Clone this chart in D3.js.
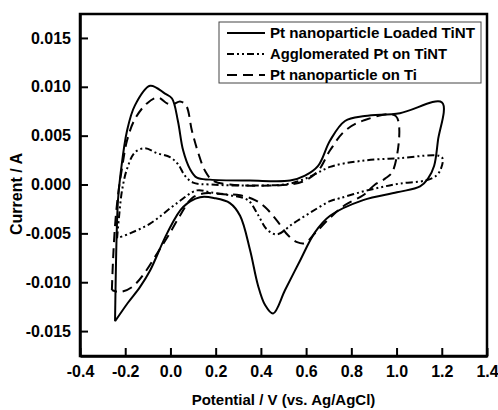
<!DOCTYPE html>
<html>
<head>
<meta charset="utf-8">
<script src="https://cdn.jsdelivr.net/npm/d3@7"></script>
<style>
  body { margin: 0; background: #fff; }
  svg text { font-family: "Liberation Sans", Arial, sans-serif; font-weight: bold; fill: #000; }
</style>
</head>
<body>
<div id="cv_chart"></div>
<script>
// series values [potential V, current A], one loop each
var loadedTiNT = [
  [-0.245, -0.0140], [-0.232, -0.0016], [-0.219, 0.0014], [-0.192, 0.0055], [-0.157, 0.0081],
  [-0.090, 0.0101], [-0.024, 0.0093], [0.007, 0.0088], [0.033, 0.0065], [0.056, 0.0035],
  [0.086, 0.0016], [0.117, 0.0007], [0.175, 0.0005], [0.352, 0.0004], [0.529, 0.0004],
  [0.595, 0.0009], [0.653, 0.0019], [0.706, 0.0045], [0.772, 0.0065], [0.860, 0.0070],
  [1.015, 0.0073], [1.201, 0.0084],
  [1.183, 0.0045], [1.166, 0.0019], [1.139, 0.0006], [1.104, -0.0002], [1.002, -0.0008],
  [0.852, -0.0016], [0.706, -0.0032], [0.639, -0.0049], [0.573, -0.0078], [0.507, -0.0108],
  [0.454, -0.0132], [0.418, -0.0123], [0.387, -0.0103], [0.352, -0.0067], [0.308, -0.0032],
  [0.263, -0.0019], [0.197, -0.0014], [0.131, -0.0013], [0.056, -0.0023], [-0.015, -0.0050],
  [-0.090, -0.0088], [-0.135, -0.0105], [-0.188, -0.0121], [-0.245, -0.0140]
];

var agglomeratedPt = [
  [-0.236, -0.0055], [-0.227, -0.0032], [-0.214, -0.0006], [-0.192, 0.0016], [-0.157, 0.0033],
  [-0.113, 0.0037], [-0.059, 0.0032], [-0.002, 0.0028], [0.033, 0.0021], [0.064, 0.0009],
  [0.100, 0.0002], [0.175, 0.0000], [0.396, -0.0001], [0.529, 0.0001], [0.617, 0.0008],
  [0.706, 0.0018], [0.838, 0.0024], [1.015, 0.0027], [1.200, 0.0028],
  [1.196, 0.0016], [1.175, 0.0009], [1.126, 0.0004], [1.015, 0.0001], [0.927, -0.0003],
  [0.838, -0.0008], [0.750, -0.0014], [0.706, -0.0017], [0.617, -0.0029], [0.542, -0.0040],
  [0.471, -0.0051], [0.427, -0.0046], [0.387, -0.0031], [0.343, -0.0016], [0.263, -0.0011],
  [0.175, -0.0008], [0.117, -0.0006], [0.029, -0.0019], [-0.090, -0.0040], [-0.179, -0.0050],
  [-0.236, -0.0055]
];

var ptOnTi = [
  [-0.259, -0.0108], [-0.254, -0.0078], [-0.245, -0.0042], [-0.232, -0.0011], [-0.214, 0.0017],
  [-0.192, 0.0045], [-0.157, 0.0067], [-0.104, 0.0083], [-0.055, 0.0089], [-0.015, 0.0083],
  [0.011, 0.0082], [0.042, 0.0085], [0.069, 0.0081], [0.095, 0.0055], [0.122, 0.0033],
  [0.153, 0.0014], [0.188, 0.0004], [0.263, 0.0000], [0.529, 0.0000], [0.595, 0.0004],
  [0.653, 0.0014], [0.706, 0.0035], [0.772, 0.0055], [0.860, 0.0066], [0.997, 0.0070],
  [0.984, 0.0014], [0.949, 0.0006], [0.905, 0.0000], [0.852, -0.0011], [0.772, -0.0021],
  [0.706, -0.0034], [0.639, -0.0050], [0.595, -0.0060], [0.560, -0.0059], [0.520, -0.0052],
  [0.471, -0.0037], [0.418, -0.0023], [0.374, -0.0016], [0.308, -0.0011], [0.232, -0.0010],
  [0.153, -0.0009], [0.095, -0.0014], [0.042, -0.0032], [-0.011, -0.0053], [-0.055, -0.0069],
  [-0.113, -0.0090], [-0.170, -0.0105], [-0.223, -0.0110], [-0.259, -0.0108]
];

var seriesNames = ["Pt nanoparticle Loaded TiNT", "Agglomerated Pt on TiNT", "Pt nanoparticle on Ti"];

// tick labels
var xTicks = [-0.4, -0.2, 0.0, 0.2, 0.4, 0.6, 0.8, 1.0, 1.2, 1.4];
var xTickLabels = ["-0.4", "-0.2", "0.0", "0.2", "0.4", "0.6", "0.8", "1.0", "1.2", "1.4"];
var yTicks = [-0.015, -0.010, -0.005, 0.000, 0.005, 0.010, 0.015];
var yTickLabels = ["-0.015", "-0.010", "-0.005", "0.000", "0.005", "0.010", "0.015"];

var cv_width = 498, cv_height = 410;
var cv_margin = { top: 14, right: 11, bottom: 54, left: 80 };
var cv_innerWidth = cv_width - cv_margin.left - cv_margin.right;
var cv_innerHeight = cv_height - cv_margin.top - cv_margin.bottom;

var svg = d3.select("#cv_chart")
  .append("svg")
  .attr("width", cv_width)
  .attr("height", cv_height)
  .append("g")
  .attr("transform", "translate(" + cv_margin.left + "," + cv_margin.top + ")");

var xScale = d3.scaleLinear().domain([-0.4, 1.4]).range([0, cv_innerWidth]);
var yScale = d3.scaleLinear().domain([-0.01755, 0.01745]).range([cv_innerHeight, 0]);

// frame, top and right
svg.append("rect")
  .attr("x", 0).attr("y", 0)
  .attr("width", cv_innerWidth).attr("height", cv_innerHeight)
  .attr("fill", "none")
  .attr("stroke", "#000")
  .attr("stroke-width", 2.5);

// axes, ticks pointing in
var xAxis = svg.append("g")
  .attr("transform", "translate(0," + cv_innerHeight + ")")
  .call(d3.axisBottom(xScale).tickValues(xTicks)
    .tickFormat((d, i) => xTickLabels[i])
    .tickSizeInner(-8).tickSizeOuter(0).tickPadding(10));

var yAxis = svg.append("g")
  .call(d3.axisLeft(yScale).tickValues(yTicks)
    .tickFormat((d, i) => yTickLabels[i])
    .tickSizeInner(-8).tickSizeOuter(0).tickPadding(9));

[xAxis, yAxis].forEach(function (ax) {
  ax.select(".domain").attr("stroke-width", 2.5);
  ax.selectAll(".tick line").attr("stroke-width", 2);
  ax.selectAll("text").style("font-size", "16px").style("font-family", "'Liberation Sans', Arial, sans-serif").style("font-weight", "bold");
});

// axis titles
svg.append("text")
  .attr("transform", "rotate(-90)")
  .attr("x", -(194 - cv_margin.top))
  .attr("y", 16 - cv_margin.left)
  .attr("dy", "0.35em")
  .style("text-anchor", "middle")
  .style("font-size", "16px")
  .text("Current / A");

svg.append("text")
  .attr("x", cv_innerWidth / 2)
  .attr("y", 405 - cv_margin.top)
  .style("text-anchor", "middle")
  .style("font-size", "15px")
  .text("Potential / V (vs. Ag/AgCl)");

// curves
var lineGen = d3.line()
  .x(d => xScale(d[0]))
  .y(d => yScale(d[1]))
  .curve(d3.curveCatmullRom.alpha(0.5));

var dashStyles = [null, "7,3,2,3,2,3", "10,6"];
var allSeries = [loadedTiNT, agglomeratedPt, ptOnTi];

allSeries.forEach(function (s, i) {
  svg.append("path")
    .datum(s)
    .attr("d", lineGen)
    .attr("fill", "none")
    .attr("stroke", "#000")
    .attr("stroke-width", 2)
    .attr("stroke-dasharray", dashStyles[i]);
});

// legend
var lg = svg.append("g").attr("transform", "translate(" + (219 - cv_margin.left) + "," + (22 - cv_margin.top) + ")");
lg.append("rect")
  .attr("width", 262).attr("height", 61)
  .attr("fill", "#fff")
  .attr("stroke", "#444")
  .attr("stroke-width", 1);

var legendTextLen = [205, 177, 147];
seriesNames.forEach(function (name, i) {
  var yy = 11 + i * 21;
  lg.append("line")
    .attr("x1", 8).attr("x2", 46)
    .attr("y1", yy).attr("y2", yy)
    .attr("stroke", "#000")
    .attr("stroke-width", 2)
    .attr("stroke-dasharray", dashStyles[i]);
  lg.append("text")
    .attr("x", 51).attr("y", yy)
    .attr("dy", "0.35em")
    .attr("textLength", legendTextLen[i])
    .attr("lengthAdjust", "spacingAndGlyphs")
    .style("font-size", "15px")
    .text(name);
});
</script>
</body>
</html>
